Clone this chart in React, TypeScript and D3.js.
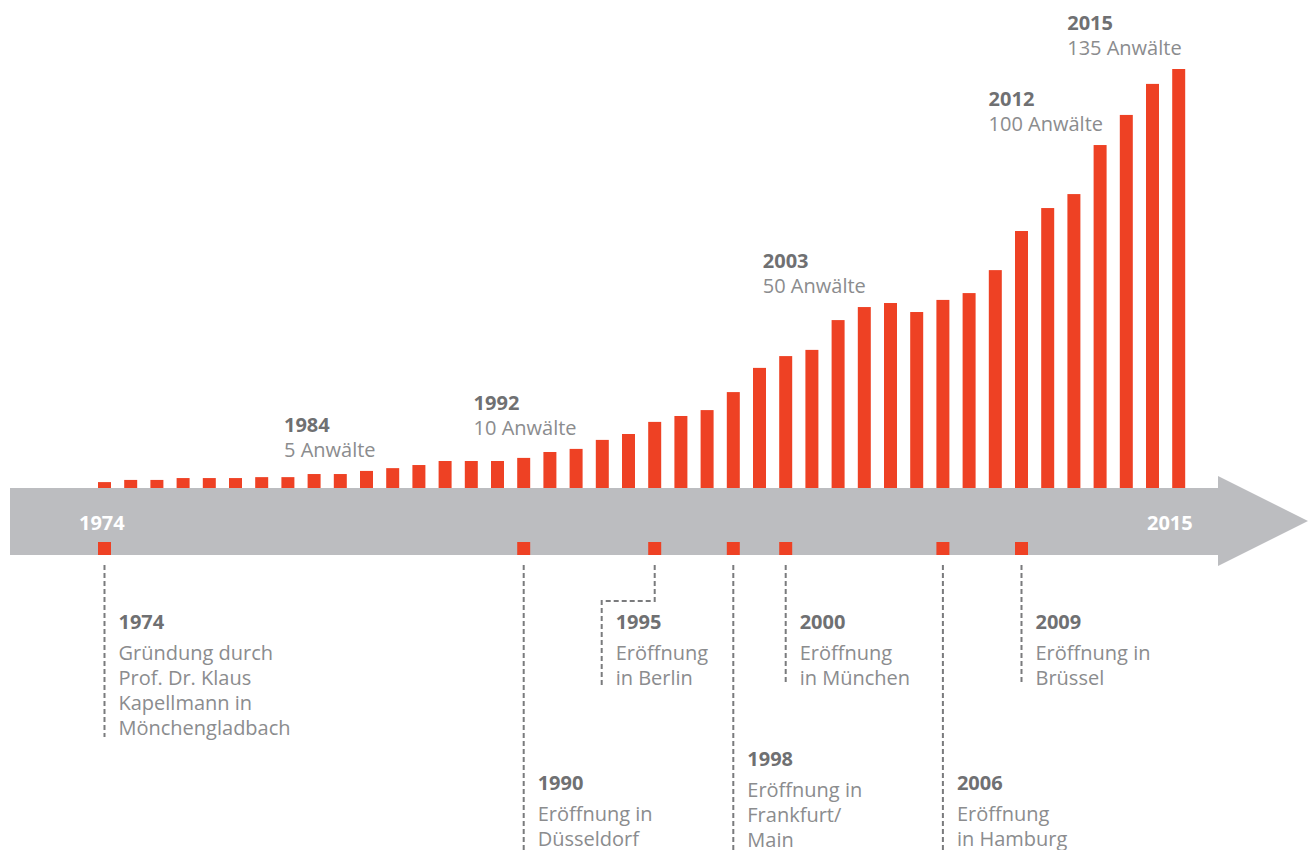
import * as d3 from "d3";

// Anwälte je Jahr
const years = d3.range(1974, 2016);
const lawyers = [
  1.9, 2.6, 2.6, 3.2, 3.2, 3.2, 3.5, 3.5, 4.5, 4.5,
  5.5, 6.4, 7.4, 8.7, 8.7, 8.7, 9.7, 11.6, 12.6, 15.5,
  17.4, 21.3, 23.2, 25.1, 30.9, 38.7, 42.5, 44.5, 54.1, 58.3,
  59.6, 56.7, 60.6, 62.8, 70.2, 82.8, 90.2, 94.7, 110.5, 120.2,
  130.2, 135,
];

// Beschriftungen über den Balken
const highlightYears = [1984, 1992, 2003, 2012, 2015];
const highlightTexts = ["5 Anwälte", "10 Anwälte", "50 Anwälte", "100 Anwälte", "135 Anwälte"];

// Meilensteine unter dem Pfeil
const milestoneYears = [1974, 1990, 1995, 1998, 2000, 2006, 2009];
const milestoneTexts = [
  ["Gründung durch", "Prof. Dr. Klaus", "Kapellmann in", "Mönchengladbach"],
  ["Eröffnung in", "Düsseldorf"],
  ["Eröffnung", "in Berlin"],
  ["Eröffnung in", "Frankfurt/", "Main"],
  ["Eröffnung", "in München"],
  ["Eröffnung", "in Hamburg"],
  ["Eröffnung in", "Brüssel"],
];

// layout only
const W = 1315;
const H = 850;
const base = 488;
const highlightDx = [-76, -96, -95, -105, -105];
const milestoneLayout = [
  { labelY: 629, lineEnd: 737, bend: 0 },
  { labelY: 790, lineEnd: 850, bend: 0 },
  { labelY: 629, lineEnd: 685, bend: -53 },
  { labelY: 766, lineEnd: 850, bend: 0 },
  { labelY: 629, lineEnd: 685, bend: 0 },
  { labelY: 790, lineEnd: 850, bend: 0 },
  { labelY: 629, lineEnd: 685, bend: 0 },
];

const RED = "#ee4124";
const GREY_ARROW = "#bcbdc0";
const TXT_BOLD = "#6f7072";
const TXT = "#8b8c8e";
const FONT = "'Open Sans', 'Noto Sans', sans-serif";

export default function App() {
  const x = d3.scaleBand<number>().domain(years).range([98, 1185.2]).paddingInner(0.504).paddingOuter(0);
  const y = d3.scaleLinear().domain([0, 135]).range([base, 69]);
  const bw = x.bandwidth();
  const valueOf = (yr: number) => lawyers[years.indexOf(yr)];

  const arrow = d3.path();
  arrow.moveTo(10, base);
  arrow.lineTo(1218, base);
  arrow.lineTo(1218, 476);
  arrow.lineTo(1308, 521);
  arrow.lineTo(1218, 566);
  arrow.lineTo(1218, 555);
  arrow.lineTo(10, 555);
  arrow.closePath();

  return (
    <svg
      width={W}
      height={H}
      style={{ position: "absolute", left: 0, top: 0, fontFamily: FONT }}
    >
      <rect width={W} height={H} fill="#fff" />
      <path d={arrow.toString()} fill={GREY_ARROW} />

      {years.map((yr, i) => (
        <rect key={yr} x={x(yr)} y={y(lawyers[i])} width={bw} height={base - y(lawyers[i])} fill={RED} />
      ))}

      <text x={79} y={530} fill="#fff" fontWeight={700} fontSize={20}>1974</text>
      <text x={1147} y={530} fill="#fff" fontWeight={700} fontSize={20}>2015</text>

      {highlightYears.map((yr, i) => {
        const tx = (x(yr) as number) + highlightDx[i];
        const ty = y(valueOf(yr)) - 39;
        return (
          <g key={yr}>
            <text x={tx} y={ty} fill={TXT_BOLD} fontWeight={700} fontSize={20}>{yr}</text>
            <text x={tx} y={ty + 25} fill={TXT} fontSize={20}>{highlightTexts[i]}</text>
          </g>
        );
      })}

      {milestoneYears.map((yr, i) => {
        const lay = milestoneLayout[i];
        const left = x(yr) as number;
        const cx = left + bw / 2;
        let d: string;
        let lineX = cx;
        if (lay.bend) {
          const p = d3.path();
          p.moveTo(cx, 565);
          p.lineTo(cx, 601);
          p.lineTo(cx + lay.bend, 601);
          p.lineTo(cx + lay.bend, lay.lineEnd);
          d = p.toString();
          lineX = cx + lay.bend;
        } else {
          d = `M${cx},565V${lay.lineEnd}`;
        }
        const tx = lineX + 14;
        return (
          <g key={yr}>
            <rect x={left} y={542} width={bw} height={13} fill={RED} />
            <path d={d} fill="none" stroke="#7a7b7d" strokeWidth={2} strokeDasharray="5 3" />
            <text x={tx} y={lay.labelY} fill={TXT_BOLD} fontWeight={700} fontSize={20}>{yr}</text>
            {milestoneTexts[i].map((line, j) => (
              <text key={j} x={tx} y={lay.labelY + 31 + j * 25} fill={TXT} fontSize={20}>{line}</text>
            ))}
          </g>
        );
      })}
    </svg>
  );
}
